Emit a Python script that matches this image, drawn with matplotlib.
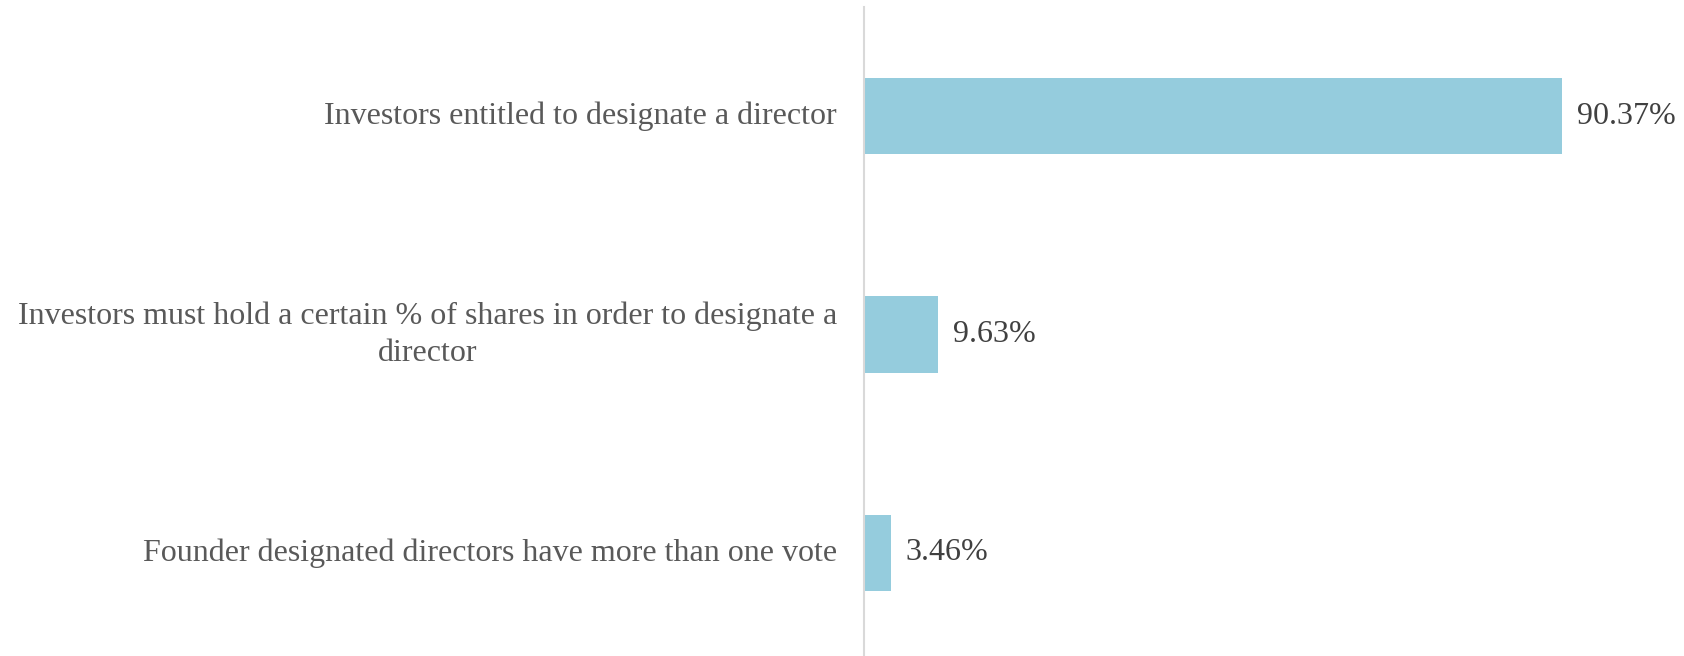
import matplotlib.pyplot as plt

categories = [
    "Investors entitled to designate a director",
    "Investors must hold a certain % of shares in order to designate a\ndirector",
    "Founder designated directors have more than one vote",
]
values = [90.37, 9.63, 3.46]
value_labels = ["90.37%", "9.63%", "3.46%"]

plt.rcParams['font.family'] = ['Liberation Serif', 'DejaVu Serif']

W, H = 1684, 656
fig = plt.figure(figsize=(W / 100, H / 100), dpi=100)
ax_left = 864 / W
ax = fig.add_axes([ax_left, -6 / H, 1 - ax_left, 655 / H])

px_per_unit = 698 / 90.37
ax.set_xlim(0, (W - 864) / px_per_unit)
ax.set_ylim(2.5, -0.5)

ypos = list(range(len(categories)))
ax.barh(ypos, values, height=0.35, color='#95ccdd', zorder=2)

for y, v, lab in zip(ypos, values, value_labels):
    ax.text(v + 15 / px_per_unit, y, lab, va='center', ha='left',
            fontsize=23, color='#404040')

for y, cat in zip(ypos, categories):
    ax.text(-27 / px_per_unit, y, cat, va='center', ha='right',
            multialignment='center', fontsize=23, color='#595959',
            linespacing=1.35)

for s in ['top', 'right', 'bottom']:
    ax.spines[s].set_visible(False)
ax.spines['left'].set_color('#d9d9d9')
ax.spines['left'].set_linewidth(1.5)
ax.set_xticks([])
ax.set_yticks([])

fig.savefig('out.png', dpi=100, facecolor='white')
